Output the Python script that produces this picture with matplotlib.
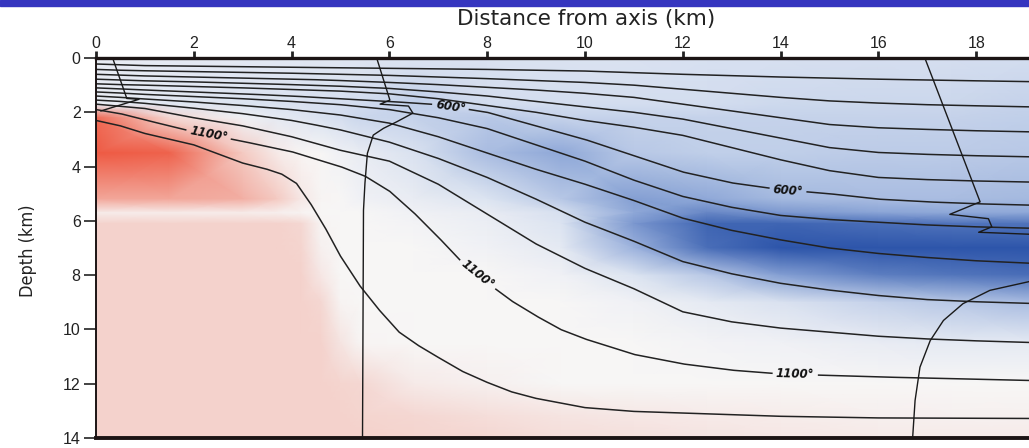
import numpy as np
import matplotlib.pyplot as plt
from matplotlib import font_manager
from matplotlib.colors import LinearSegmentedColormap
from matplotlib.patches import Rectangle

# isotherm depths (km) sampled at distances from the axis (km)
x_knots = [0, 0.5, 1, 2, 3, 4, 4.5, 5, 6, 7, 8, 9, 10, 11, 12, 13, 14, 15, 16, 17, 18, 19.1]

iso_100 = [0.22, 0.25, 0.28, 0.3, 0.32, 0.34, 0.35, 0.36, 0.38, 0.4, 0.42, 0.45, 0.48, 0.54, 0.6, 0.65, 0.7, 0.74, 0.78, 0.81, 0.84, 0.87]
iso_200 = [0.42, 0.45, 0.47, 0.5, 0.53, 0.56, 0.58, 0.6, 0.64, 0.7, 0.76, 0.83, 0.9, 1.0, 1.15, 1.3, 1.45, 1.58, 1.66, 1.72, 1.76, 1.8]
iso_300 = [0.6, 0.63, 0.66, 0.7, 0.74, 0.78, 0.8, 0.83, 0.9, 0.98, 1.08, 1.18, 1.3, 1.45, 1.7, 1.95, 2.2, 2.45, 2.57, 2.63, 2.68, 2.72]
iso_400 = [0.78, 0.81, 0.84, 0.88, 0.93, 0.98, 1.01, 1.04, 1.12, 1.25, 1.4, 1.6, 1.8, 2.0, 2.25, 2.6, 2.95, 3.3, 3.48, 3.55, 3.6, 3.64]
iso_500 = [0.95, 0.98, 1.0, 1.05, 1.1, 1.16, 1.19, 1.22, 1.32, 1.5, 1.75, 2.0, 2.3, 2.55, 2.85, 3.3, 3.75, 4.15, 4.4, 4.48, 4.53, 4.57]
iso_600 = [1.1, 1.14, 1.18, 1.25, 1.32, 1.4, 1.45, 1.5, 1.6, 1.72, 2.0, 2.5, 3.0, 3.6, 4.2, 4.6, 4.85, 5.0, 5.2, 5.3, 5.37, 5.42]
iso_700 = [1.25, 1.29, 1.34, 1.42, 1.5, 1.6, 1.66, 1.72, 1.9, 2.2, 2.6, 3.2, 3.8, 4.5, 5.1, 5.5, 5.8, 5.95, 6.05, 6.15, 6.22, 6.27]
iso_800 = [1.4, 1.45, 1.51, 1.62, 1.75, 1.9, 2.0, 2.1, 2.4, 2.9, 3.5, 4.1, 4.65, 5.25, 5.9, 6.35, 6.7, 7.0, 7.2, 7.35, 7.47, 7.56]
iso_900 = [1.55, 1.6, 1.67, 1.85, 2.05, 2.3, 2.47, 2.65, 3.1, 3.7, 4.4, 5.2, 6.05, 6.75, 7.5, 7.95, 8.3, 8.55, 8.75, 8.9, 8.98, 9.04]
iso_1000 = [1.7, 1.78, 1.86, 2.2, 2.5, 2.9, 3.15, 3.4, 3.8, 4.65, 5.75, 6.85, 7.75, 8.5, 9.35, 9.72, 9.95, 10.1, 10.25, 10.35, 10.42, 10.48]

# the two deepest isotherms bend sharply, so they carry their own knots
x_1100 = [0, 0.5, 1, 2, 3, 4, 5, 5.5, 6, 6.5, 7, 7.5, 8, 8.5, 9, 9.5, 10, 11, 12, 13, 14, 16, 19.1]
iso_1100 = [1.9, 2.05, 2.28, 2.72, 3.07, 3.45, 4.0, 4.35, 4.9, 5.7, 6.6, 7.55, 8.28, 8.95, 9.5, 10.0, 10.35, 10.92, 11.27, 11.5, 11.64, 11.75, 11.88]
x_1200 = [0, 0.5, 1, 2, 3, 3.5, 3.8, 4.1, 4.4, 4.7, 5.0, 5.4, 5.8, 6.2, 6.6, 7, 7.5, 8, 8.5, 9, 10, 11, 12, 14, 16, 19.1]
iso_1200 = [2.3, 2.5, 2.78, 3.2, 3.87, 4.1, 4.28, 4.62, 5.4, 6.3, 7.3, 8.4, 9.3, 10.1, 10.6, 11.03, 11.55, 11.95, 12.3, 12.54, 12.88, 13.02, 13.08, 13.2, 13.26, 13.28]

isotherms = [(x_knots, iso_100), (x_knots, iso_200), (x_knots, iso_300),
             (x_knots, iso_400), (x_knots, iso_500), (x_knots, iso_600),
             (x_knots, iso_700), (x_knots, iso_800), (x_knots, iso_900),
             (x_knots, iso_1000), (x_1100, iso_1100), (x_1200, iso_1200)]

# (isotherm index, distance along axis, text)
iso_labels = [
    (5, 7.25, '600°'),
    (5, 14.15, '600°'),
    (10, 2.3, '1100°'),
    (10, 7.8, '1100°'),
    (10, 14.3, '1100°'),
]

# particle paths (km)
path_a_x = [0.34, 0.63, 0.88, 0.1]
path_a_d = [0.0, 1.49, 1.52, 1.95]
path_b_x = [5.74, 6.01, 5.81, 6.39, 6.48, 6.15, 5.88, 5.67, 5.55, 5.5, 5.47, 5.45]
path_b_d = [0.0, 1.55, 1.70, 1.77, 2.03, 2.35, 2.59, 2.84, 3.51, 4.61, 5.61, 14.0]
path_c_x = [16.95, 18.08, 17.46, 18.25, 18.32, 18.05, 19.2]
path_c_d = [0.0, 5.30, 5.76, 5.92, 6.22, 6.42, 6.5]
path_d_x = [19.2, 18.28, 17.73, 17.33, 17.06, 16.85, 16.75, 16.70]
path_d_d = [8.19, 8.56, 9.05, 9.67, 10.41, 11.39, 12.62, 14.0]

# shading: negative = cooling (blue), positive = melt (red)
field_x = [0, 1.5, 3, 3.7, 4.2, 4.6, 5.0, 5.4, 6.5, 8, 9.5, 11, 12.5, 14, 16, 17.5, 19.1]
field_depth = [0, 1.7, 2.2, 3.5, 5.2, 5.7, 6.1, 7, 8, 9, 10.5, 12, 13.2, 14]
field = [
    [-.10, -.12, -.14, -.15, -.15, -.16, -.16, -.17, -.18, -.20, -.20, -.20, -.22, -.22, -.24, -.24, -.25],
    [-.10, -.15, -.18, -.20, -.21, -.22, -.23, -.25, -.32, -.25, -.25, -.25, -.25, -.27, -.28, -.28, -.30],
    [.90, .25, -.05, -.12, -.16, -.20, -.24, -.28, -.30, -.35, -.30, -.30, -.30, -.30, -.30, -.30, -.32],
    [1.0, .95, .35, .10, .02, 0.0, -.05, -.10, -.20, -.40, -.50, -.35, -.32, -.32, -.33, -.33, -.35],
    [.55, .55, .50, .35, .12, .02, 0.0, -.05, -.10, -.18, -.35, -.55, -.50, -.42, -.40, -.40, -.42],
    [.08, .08, .08, .06, .03, 0.0, 0.0, 0.0, -.05, -.10, -.22, -.50, -.70, -.60, -.52, -.50, -.50],
    [.30, .30, .30, .30, .25, .02, 0.0, 0.0, -.03, -.08, -.18, -.60, -.90, -.90, -.85, -.82, -.82],
    [.30, .30, .30, .30, .28, .05, 0.0, 0.0, 0.0, -.05, -.12, -.45, -.85, -1.0, -1.0, -1.0, -1.0],
    [.30, .30, .30, .30, .30, .12, 0.0, 0.0, 0.0, 0.0, -.05, -.18, -.35, -.55, -.75, -.80, -.85],
    [.30, .30, .30, .30, .30, .25, .03, 0.0, 0.0, 0.0, 0.0, -.05, -.12, -.20, -.30, -.35, -.40],
    [.30, .30, .30, .30, .30, .30, .15, .02, 0.0, 0.0, 0.0, 0.0, -.03, -.05, -.10, -.12, -.12],
    [.30, .30, .30, .30, .30, .30, .28, .25, .10, .05, 0.0, 0.0, 0.0, 0.0, 0.0, 0.0, 0.0],
    [.30, .30, .30, .30, .30, .30, .30, .28, .25, .20, .15, .12, .10, .08, .06, .05, .05],
    [.30, .30, .30, .30, .30, .30, .30, .30, .28, .25, .20, .18, .15, .12, .10, .10, .10],
]

x_ticks = list(range(0, 19, 2))
depth_ticks = list(range(0, 15, 2))

cmap = LinearSegmentedColormap.from_list('melt', [
    (0.0, '#2d55aa'), (0.25, '#8ea8d8'), (0.375, '#d3ddef'),
    (0.5, '#f7f6f6'), (0.65, '#f4d2cc'), (1.0, '#ee5a43')])

fig = plt.figure(figsize=(10.29, 4.48), dpi=100)
ax = fig.add_axes([0.0933, 0.0223, 0.9067, 0.8482])
ax.set_xlim(0, 19.08)
ax.set_ylim(14, 0)

ax.pcolormesh(field_x, field_depth, np.array(field), shading='gouraud',
              cmap=cmap, vmin=-1, vmax=1, zorder=0)

line_kw = dict(color='#222222', lw=1.1, zorder=2)
renderer = fig.canvas.get_renderer()

for k, (xk, dk) in enumerate(isotherms):
    labels = [(lx, t) for idx, lx, t in iso_labels if idx == k]
    if not labels:
        ax.plot(xk, dk, **line_kw)
        continue
    # labelled isotherms are drawn with a gap where the label sits
    xs = np.linspace(xk[0], xk[-1], 4000)
    ys = np.interp(xs, xk, dk)
    pts = ax.transData.transform(np.column_stack([xs, ys]))
    arc = np.concatenate([[0], np.cumsum(np.hypot(*np.diff(pts, axis=0).T))])
    keep = np.ones_like(xs, dtype=bool)
    for lab_x, text in labels:
        i = int(np.argmin(np.abs(xs - lab_x)))
        j0, j1 = max(i - 20, 0), min(i + 20, len(xs) - 1)
        dx, dy = pts[j1] - pts[j0]
        ang = np.degrees(np.arctan2(dy, dx))
        t = ax.text(xs[i], ys[i], text, rotation=ang, rotation_mode='anchor',
                    ha='center', va='center', fontsize=8.5, fontweight='bold',
                    fontstyle='italic', color='#111111', zorder=3)
        t.set_rotation(0)
        w = t.get_window_extent(renderer).width
        t.set_rotation(ang)
        keep &= np.abs(arc - arc[i]) > w / 2 + 4
    ax.plot(xs, np.where(keep, ys, np.nan), **line_kw)

path_kw = dict(color='#1a1a1a', lw=1.0, zorder=2)
ax.plot(path_a_x, path_a_d, **path_kw)
ax.plot(path_b_x, path_b_d, **path_kw)
ax.plot(path_c_x, path_c_d, **path_kw)
ax.plot(path_d_x, path_d_d, **path_kw)

ax.xaxis.tick_top()
ax.set_xticks(x_ticks)
ax.set_yticks(depth_ticks)
tick_font = ['Liberation Sans', 'DejaVu Sans']
for lab in ax.get_xticklabels() + ax.get_yticklabels():
    lab.set_family(tick_font)
ax.tick_params(axis='x', direction='out', length=5, width=2, pad=0,
               labelsize=11.5, colors='#222222')
ax.tick_params(axis='y', direction='out', length=9, width=1.2, pad=2,
               labelsize=11.5, colors='#222222')
ax.spines['right'].set_visible(False)
ax.spines['top'].set_linewidth(2.4)
ax.spines['bottom'].set_linewidth(2.8)
ax.spines['left'].set_linewidth(1.4)
for s in ('top', 'bottom', 'left'):
    ax.spines[s].set_color('#1c1414')

fig.text(0.570, 0.958, 'Distance from axis (km)', ha='center', va='center',
         fontsize=15.5, family='DejaVu Sans', color='#222222')

fonts = font_manager.fontManager.ttflist
if any(f.name == 'Liberation Sans Narrow' for f in fonts):
    ylab_kw = dict(family='Liberation Sans Narrow', fontsize=15)
elif any(f.name == 'DejaVu Sans' and f.stretch == 'condensed' for f in fonts):
    ylab_kw = dict(family='DejaVu Sans', fontstretch='condensed', fontsize=13)
else:
    ylab_kw = dict(family='DejaVu Sans', fontsize=11.5)
fig.text(0.027, 0.44, 'Depth (km)', rotation=90, ha='center', va='center',
         color='#222222', **ylab_kw)

# banner strip along the top edge
fig.add_artist(Rectangle((0, 1 - 6 / 448), 1, 6 / 448, transform=fig.transFigure,
                         color='#3535bf', zorder=5))

fig.savefig('out.png', dpi=100)
